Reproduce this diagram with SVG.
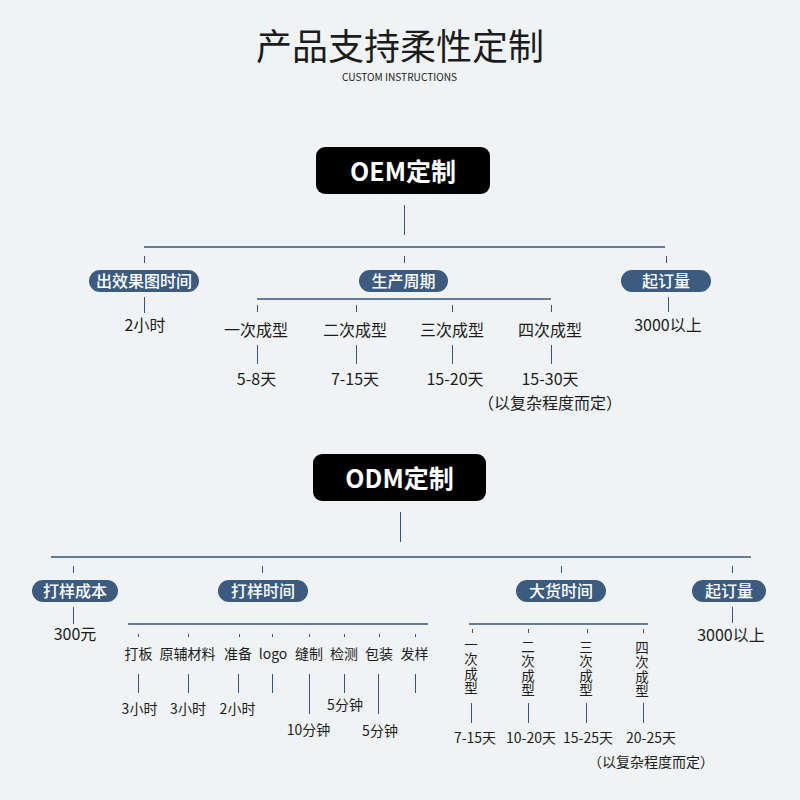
<svg xmlns="http://www.w3.org/2000/svg" width="800" height="800" viewBox="0 0 800 800">
<style>
text{font-family:"Noto Sans CJK SC","Noto Sans",sans-serif;text-anchor:middle;fill:#1c1c1c}
.title{font-size:36px}
.sub{font-size:10.5px}
.big{font-size:25px;font-weight:bold;fill:#fff}
.pill{fill:#3c5b7f}
.pt{font-size:16px;font-weight:500;fill:#fff}
.t16{font-size:16px}
.t14{font-size:14px}
.vt{font-size:13.5px;writing-mode:vertical-rl;text-anchor:start;letter-spacing:1px}
.ln{stroke:#34557c;stroke-width:1.5;fill:none}
.tk{stroke:#34557c;stroke-width:1;fill:none}
</style>
<rect width="800" height="800" fill="#f0f3f5"/>
<g id="title">
<text class="title" x="400" y="60">产品支持柔性定制</text>
<text class="sub" x="399.5" y="81" textLength="115" lengthAdjust="spacingAndGlyphs">CUSTOM INSTRUCTIONS</text>
</g>
<g id="connectors">
<!-- OEM -->
<path class="tk" d="M404.5 205V235"/>
<path class="ln" d="M144 247H665"/>
<path class="tk" d="M144.5 256V263M404.5 256V263M666.5 256V263"/>
<path class="tk" d="M144.5 297V313M668.5 297V312"/>
<path class="ln" d="M257 299H551"/>
<path class="tk" d="M257.5 305V312M356.5 305V312M452.5 305V312M551.5 305V312"/>
<path class="tk" d="M257.5 345V364M356.5 345V364M452.5 345V364M551.5 345V364"/>
<!-- ODM -->
<path class="tk" d="M400.5 512V542"/>
<path class="ln" d="M51 557H751"/>
<path class="tk" d="M73.5 566V573M262.5 566V573M561.5 566V573M732.5 566V573"/>
<path class="tk" d="M73.5 607V624M732.5 607V623"/>
<path class="ln" d="M128 624H428"/>
<path class="tk" d="M138.5 634V637M188.5 634V637M239.5 634V637M272.5 634V637M309.5 634V637M344.5 634V637M379.5 634V637M415.5 634V637"/>
<path class="tk" d="M138.5 674V693M188.5 674V693M238.5 674V693M272.5 674V693M309.5 674V714M344.5 674V693M378.5 674V714M415.5 674V693"/>
<path class="ln" d="M469 624H648"/>
<path class="tk" d="M472.5 629V633M528.5 629V633M587.5 629V633M643.5 629V633"/>
<path class="tk" d="M471.5 703V723M528.5 703V723M586.5 703V723M643.5 703V723"/>
</g>
<g id="oem">
<rect x="316" y="147" width="174" height="47" rx="9" fill="#000"/>
<text class="big" x="403" y="181">OEM定制</text>
</g>
<g id="oem-render">
<rect class="pill" x="89" y="270" width="110" height="22" rx="11"/>
<text class="pt" x="144" y="287">出效果图时间</text>
<text class="t16" x="145" y="331">2小时</text>
</g>
<g id="oem-cycle">
<rect class="pill" x="359" y="270" width="89" height="22" rx="11"/>
<text class="pt" x="403.5" y="287">生产周期</text>
<text class="t16" x="256" y="336">一次成型</text>
<text class="t16" x="355" y="336">二次成型</text>
<text class="t16" x="452" y="336">三次成型</text>
<text class="t16" x="550" y="336">四次成型</text>
<text class="t16" x="256.5" y="385">5-8天</text>
<text class="t16" x="355" y="385">7-15天</text>
<text class="t16" x="455" y="385">15-20天</text>
<text class="t16" x="550" y="385">15-30天</text>
<text class="t16" x="550" y="409">（以复杂程度而定）</text>
</g>
<g id="oem-moq">
<rect class="pill" x="621" y="270" width="90" height="22" rx="11"/>
<text class="pt" x="666" y="287">起订量</text>
<text class="t16" x="668" y="331">3000以上</text>
</g>
<g id="odm">
<rect x="313" y="454" width="173" height="47" rx="9" fill="#000"/>
<text class="big" x="399.5" y="488">ODM定制</text>
</g>
<g id="odm-cost">
<rect class="pill" x="32" y="580" width="86" height="22" rx="11"/>
<text class="pt" x="75" y="597">打样成本</text>
<text class="t16" x="75" y="640">300元</text>
</g>
<g id="odm-sample">
<rect class="pill" x="218" y="580" width="90" height="22" rx="11"/>
<text class="pt" x="263" y="597">打样时间</text>
<text class="t14" x="138.5" y="659">打板</text>
<text class="t14" x="187.5" y="659">原辅材料</text>
<text class="t14" x="238" y="659">准备</text>
<text class="t14" x="273" y="659">logo</text>
<text class="t14" x="309" y="659">缝制</text>
<text class="t14" x="344" y="659">检测</text>
<text class="t14" x="379" y="659">包装</text>
<text class="t14" x="414.5" y="659">发样</text>
<text class="t14" x="139.5" y="714">3小时</text>
<text class="t14" x="188" y="714">3小时</text>
<text class="t14" x="237.5" y="714">2小时</text>
<text class="t14" x="308.5" y="735">10分钟</text>
<text class="t14" x="345" y="710">5分钟</text>
<text class="t14" x="380" y="736">5分钟</text>
</g>
<g id="odm-bulk">
<rect class="pill" x="516" y="580" width="90" height="22" rx="11"/>
<text class="pt" x="561" y="597">大货时间</text>
<text class="vt" x="471" y="638">一次成型</text>
<text class="vt" x="528" y="640">二次成型</text>
<text class="vt" x="586" y="640">三次成型</text>
<text class="vt" x="642" y="641">四次成型</text>
<text class="t14" x="475" y="743">7-15天</text>
<text class="t14" x="531" y="743">10-20天</text>
<text class="t14" x="588" y="743">15-25天</text>
<text class="t14" x="651" y="743">20-25天</text>
<text class="t14" x="651" y="767">（以复杂程度而定）</text>
</g>
<g id="odm-moq">
<rect class="pill" x="692" y="580" width="74" height="22" rx="11"/>
<text class="pt" x="729" y="597">起订量</text>
<text class="t16" x="731" y="641">3000以上</text>
</g>
</svg>
